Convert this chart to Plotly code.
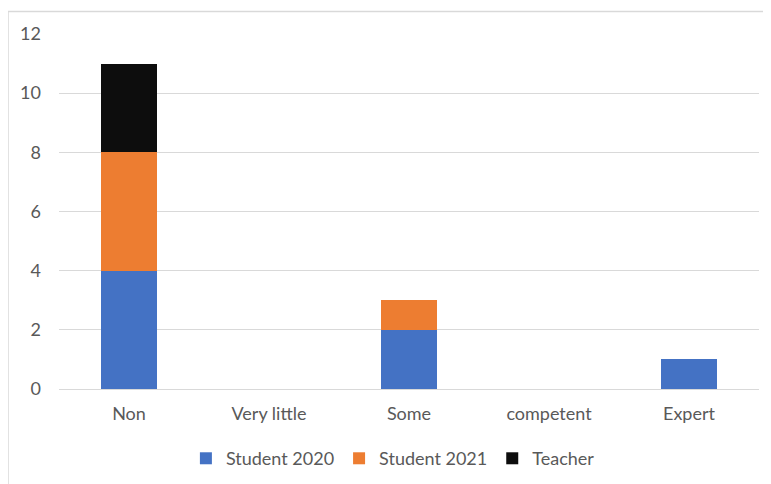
import plotly.graph_objects as go

categories = ["Non", "Very little", "Some", "competent", "Expert"]
student_2020 = [4, 0, 2, 0, 1]
student_2021 = [4, 0, 1, 0, 0]
teacher = [3, 0, 0, 0, 0]
y_ticks = [0, 2, 4, 6, 8, 10, 12]

fig = go.Figure()
fig.add_trace(go.Bar(name="Student 2020", x=categories, y=student_2020, marker_color="#4472C4"))
fig.add_trace(go.Bar(name="Student 2021", x=categories, y=student_2021, marker_color="#ED7D31"))
fig.add_trace(go.Bar(name="Teacher", x=categories, y=teacher, marker_color="#0D0D0D"))
fig.update_traces(marker_line_width=0)

font_family = "Lato, 'Open Sans', sans-serif"
fig.update_layout(
    barmode="stack",
    bargap=0.6,
    width=763, height=476,
    margin=dict(l=51, r=12, t=26, b=95, autoexpand=False),
    paper_bgcolor="white", plot_bgcolor="white",
    font=dict(family=font_family, size=18, color="#595959"),
    showlegend=True,
    legend=dict(orientation="h", x=0.477, xanchor="center", y=-0.196, yanchor="middle",
                font=dict(size=18, color="#595959"), traceorder="normal", itemwidth=30),
    xaxis=dict(showgrid=False, showline=True, linecolor="#D9D9D9", linewidth=1, automargin=False,
               ticks="", ticklabelstandoff=8, tickfont=dict(size=18, color="#595959")),
    yaxis=dict(range=[0, 12], tickvals=y_ticks, showgrid=True, gridcolor="#D9D9D9",
               gridwidth=1, zeroline=False, showline=False, ticks="", automargin=False,
               ticklabelstandoff=17, tickfont=dict(size=18, color="#595959")),
)
fig.add_shape(type="rect", xref="paper", yref="paper",
              x0=-51 / 700, x1=1.2, y0=-0.5, y1=1 + (26 - 3.5) / 355,
              line=dict(color="#D9D9D9", width=1.5), fillcolor="rgba(0,0,0,0)", layer="below")
fig.write_html("out.html")
